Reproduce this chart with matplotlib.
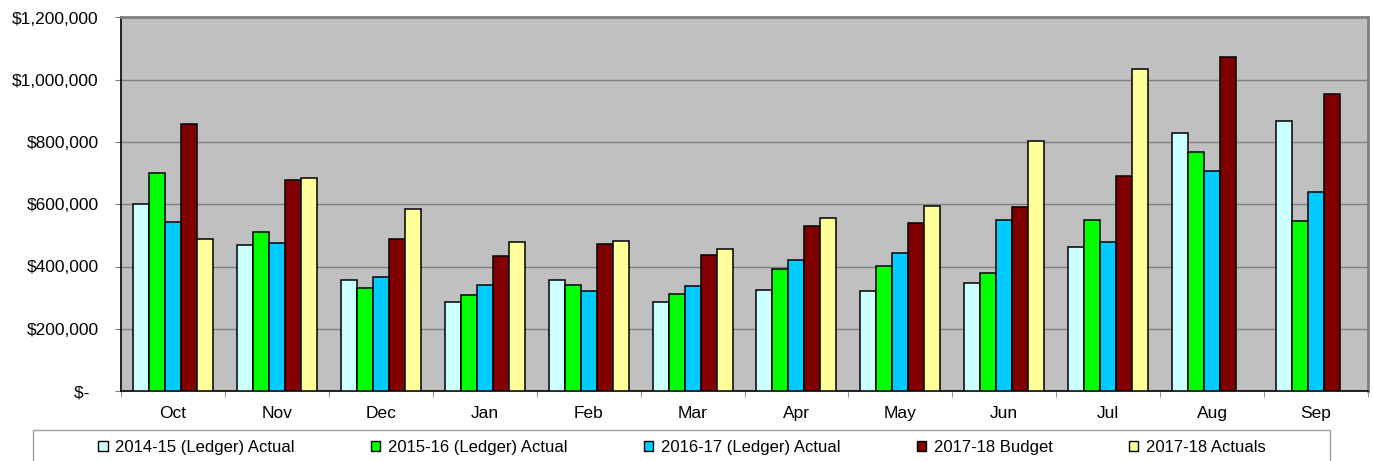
import numpy as np
import matplotlib
matplotlib.use("Agg")
import matplotlib.pyplot as plt
from matplotlib.patches import Patch, Rectangle
from matplotlib.ticker import FuncFormatter, MultipleLocator

months = ["Oct", "Nov", "Dec", "Jan", "Feb", "Mar", "Apr", "May", "Jun", "Jul", "Aug", "Sep"]

actual_1415 = [602000, 470000, 356000, 287000, 357000, 286000, 325000, 320000, 347000, 462000, 828000, 868000]
actual_1516 = [699000, 510000, 332000, 307000, 340000, 313000, 393000, 401000, 380000, 548000, 769000, 546000]
actual_1617 = [543000, 475000, 365000, 341000, 320000, 338000, 421000, 442000, 548000, 478000, 707000, 639000]
budget_1718 = [858000, 677000, 489000, 435000, 472000, 436000, 529000, 541000, 592000, 692000, 1072000, 955000]
actuals_1718 = [488000, 685000, 586000, 480000, 481000, 456000, 556000, 594000, 802000, 1035000, np.nan, np.nan]

series_names = ["2014-15 (Ledger) Actual", "2015-16 (Ledger) Actual", "2016-17 (Ledger) Actual",
                "2017-18 Budget", "2017-18 Actuals"]
series_colors = ["#CCFFFF", "#00FF00", "#00CCFF", "#800000", "#FFFF99"]

plt.rcParams["font.family"] = ["Liberation Sans", "DejaVu Sans"]

fig = plt.figure(figsize=(13.73, 4.61), dpi=100)
ax = fig.add_axes([121 / 1373, 70 / 461, (1368 - 121) / 1373, (391 - 17.5) / 461])
ax.set_facecolor("#C0C0C0")

x = np.arange(len(months))
w = 1 / 6.5
all_series = [actual_1415, actual_1516, actual_1617, budget_1718, actuals_1718]
for i, (vals, col) in enumerate(zip(all_series, series_colors)):
    ax.bar(x + (i - 2) * w, vals, width=w, color=col, edgecolor="black", linewidth=1.1, zorder=3)

ax.set_xlim(-0.5, len(months) - 0.5)
ax.set_ylim(0, 1200000)
ax.yaxis.set_major_locator(MultipleLocator(200000))
ax.yaxis.set_major_formatter(FuncFormatter(lambda v, p: "$-  " if v == 0 else f"${v:,.0f}"))
ax.grid(axis="y", color="#808080", linewidth=1.0, zorder=1)

ax.set_xticks(x)
ax.set_xticklabels(months)
ax.set_xticks(np.arange(-0.5, len(months)), minor=True)
ax.tick_params(axis="x", which="major", length=0, pad=11, labelsize=12.5)
ax.tick_params(axis="x", which="minor", length=4, direction="out", color="#808080")
ax.tick_params(axis="y", length=4, direction="out", color="#808080", pad=12, labelsize=12.5)

for side in ["top", "right"]:
    ax.spines[side].set_color("#808080")
    ax.spines[side].set_linewidth(2)
for side in ["left", "bottom"]:
    ax.spines[side].set_color("black")
    ax.spines[side].set_linewidth(1.2)

# legend box, runs past the bottom edge like the original
fig.patches.append(Rectangle((33 / 1373, -0.1), (1330 - 33) / 1373, 0.1 + (461 - 430) / 461,
                             transform=fig.transFigure, fill=False, edgecolor="#a0a0a0", linewidth=1))
handles = [Patch(facecolor=c, edgecolor="black", linewidth=1) for c in series_colors]
fig.legend(handles, series_names, loc="center", bbox_to_anchor=(682 / 1373, 1 - 447 / 461),
           ncol=5, frameon=False, fontsize=12, handlelength=0.55, handleheight=0.55,
           handletextpad=0.45, columnspacing=4.6, borderpad=0)

fig.savefig("out.png", dpi=100)
